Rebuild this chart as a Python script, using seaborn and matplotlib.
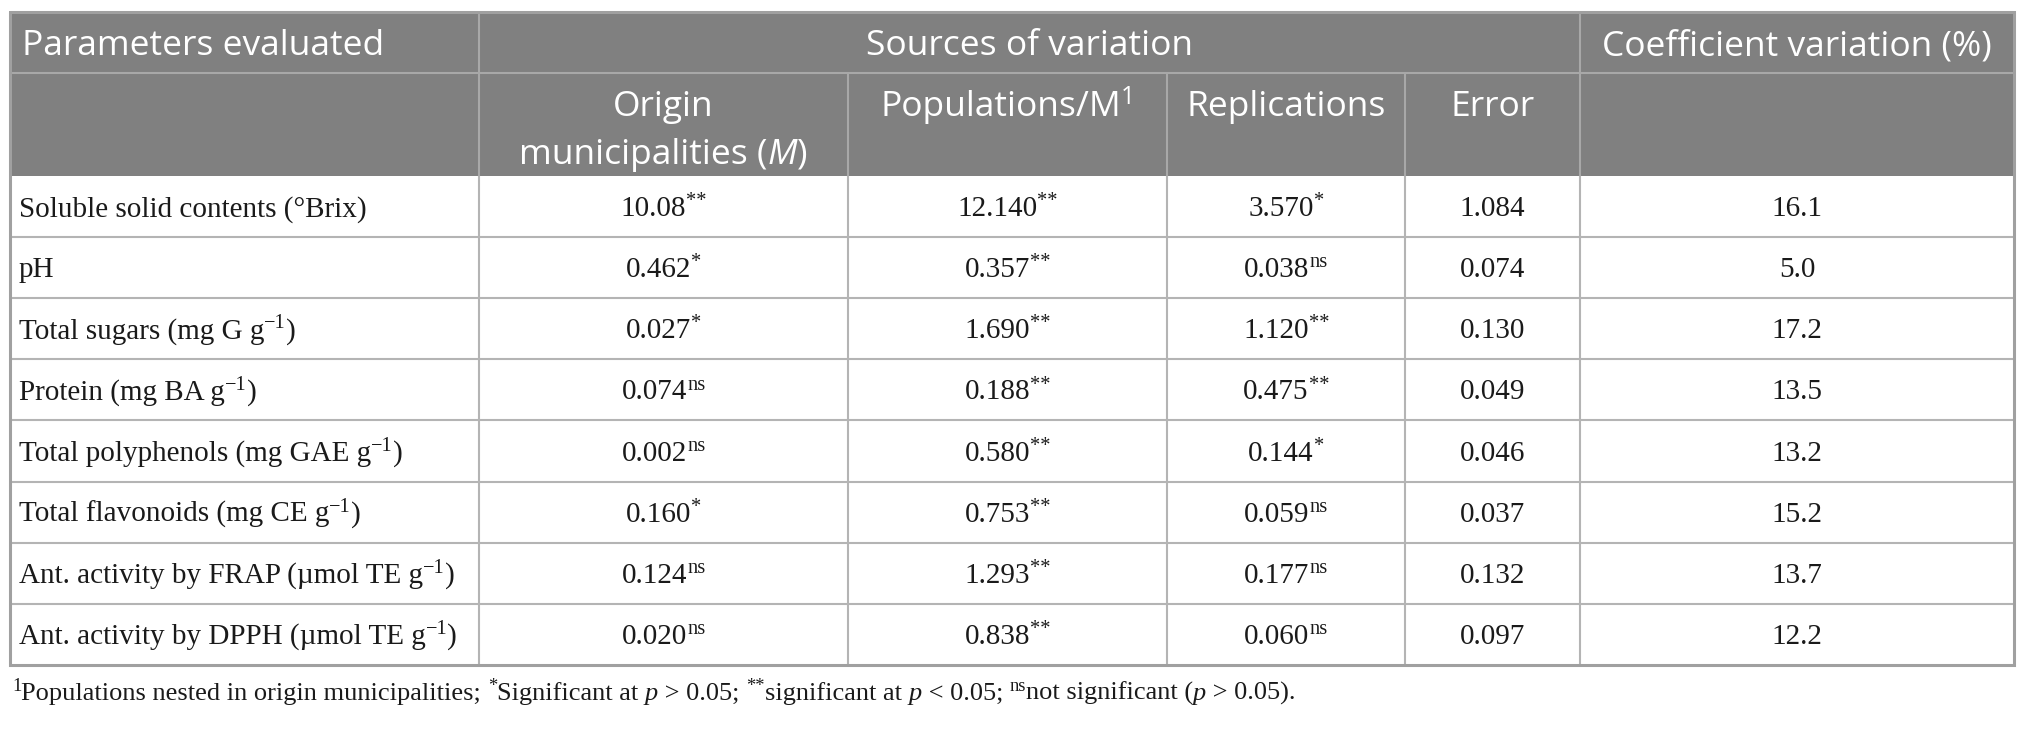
#!/usr/bin/env python
"""
ANOVA mean squares table redrawn as a figure
"""

import re
import matplotlib
matplotlib.use("Agg")
import matplotlib.pyplot as plt
from matplotlib.patches import Rectangle
from matplotlib.font_manager import FontProperties
import seaborn as sns

sns.set_style("white")

# ---------------------------------------------------------------------------
# Table content (^{..} = superscript, $..$ = italic)
# ---------------------------------------------------------------------------
parameters = [
    "Soluble solid contents (°Brix)",
    "pH",
    "Total sugars (mg G g^{−1})",
    "Protein (mg BA g^{−1})",
    "Total polyphenols (mg GAE g^{−1})",
    "Total flavonoids (mg CE g^{−1})",
    "Ant. activity by FRAP (µmol TE g^{−1})",
    "Ant. activity by DPPH (µmol TE g^{−1})",
]
municip_vals = ["10.08", "0.462", "0.027", "0.074", "0.002", "0.160", "0.124", "0.020"]
municip_sig = ["**", "*", "*", "ns", "ns", "*", "ns", "ns"]
pop_vals = ["12.140", "0.357", "1.690", "0.188", "0.580", "0.753", "1.293", "0.838"]
pop_sig = ["**", "**", "**", "**", "**", "**", "**", "**"]
rep_vals = ["3.570", "0.038", "1.120", "0.475", "0.144", "0.059", "0.177", "0.060"]
rep_sig = ["*", "ns", "**", "**", "*", "ns", "ns", "ns"]
error_vals = ["1.084", "0.074", "0.130", "0.049", "0.046", "0.037", "0.132", "0.097"]
cv_vals = ["16.1", "5.0", "17.2", "13.5", "13.2", "15.2", "13.7", "12.2"]

header_top = ["Parameters evaluated", "Sources of variation", "Coefficient variation (%)"]
header_sub = ["Origin\nmunicipalities ($M$)", "Populations/M^{1}", "Replications", "Error"]
footnote = ("^{1}Populations nested in origin municipalities; ^{*}Significant at $p$ > 0.05; "
            "^{**}significant at $p$ < 0.05; ^{ns}not significant ($p$ > 0.05).")

# ---------------------------------------------------------------------------
# Layout (pixels)
# ---------------------------------------------------------------------------
W, H = 2028, 738
col_edges = [10, 479, 848, 1167, 1405, 1580, 2014]
top, h1, h2 = 12, 73, 176
row_h = 61.1
n_rows = len(parameters)
row_edges = [h2 + i * row_h for i in range(n_rows + 1)]
bottom = row_edges[-1]

HEAD_BG = "#808080"
HEAD_LINE = "#a8a8a8"
BODY_LINE = "#b4b4b4"
SANS = "Open Sans"
SERIF = "Liberation Serif"
HEAD_SIZE = 25.5
BODY_SIZE = 21
FOOT_SIZE = 19
SUP = 0.7
PX = 100 / 72

fig = plt.figure(figsize=(W / 100, H / 100), dpi=100)
ax = fig.add_axes([0, 0, 1, 1])
ax.set_xlim(0, W)
ax.set_ylim(H, 0)
ax.axis("off")
renderer = fig.canvas.get_renderer()


def parse(markup):
    out = []
    for tok in re.split(r"(\^\{[^}]*\}|\$[^$]*\$)", markup):
        if not tok:
            continue
        if tok.startswith("^{"):
            out.append((tok[2:-1], "sup"))
        elif tok.startswith("$"):
            out.append((tok[1:-1], "it"))
        else:
            out.append((tok, "rm"))
    return out


def width(s, prop):
    w1 = renderer.get_text_width_height_descent("x" + s + "x", prop, ismath=False)[0]
    w0 = renderer.get_text_width_height_descent("xx", prop, ismath=False)[0]
    return w1 - w0


def rich(x, y, markup, size, family, color, ha="left"):
    """draw mixed text with baseline at y"""
    pieces = []
    for s, kind in parse(markup):
        if kind == "sup":
            prop = FontProperties(family=family, size=size * SUP)
        elif kind == "it":
            prop = FontProperties(family=family, size=size, style="italic")
        else:
            prop = FontProperties(family=family, size=size)
        pieces.append((s, kind, prop, width(s, prop)))
    total = sum(p[3] for p in pieces)
    cx = x - total / 2 if ha == "center" else x
    for s, kind, prop, w in pieces:
        dy = size * PX * 0.34 if kind == "sup" else 0
        ax.text(cx, y - dy, s, fontproperties=prop, color=color,
                ha="left", va="baseline")
        cx += w


# ---------------------------------------------------------------------------
# Header
# ---------------------------------------------------------------------------
ax.add_patch(Rectangle((col_edges[0], top), col_edges[-1] - col_edges[0], h2 - top,
                       facecolor=HEAD_BG, edgecolor="none", zorder=0))
ax.hlines(h1, col_edges[0], col_edges[-1], color=HEAD_LINE, lw=1.5)
ax.vlines([col_edges[1], col_edges[5]], top, h2, color=HEAD_LINE, lw=1.5)
ax.vlines(col_edges[2:5], h1, h2, color=HEAD_LINE, lw=1.5)

head_cap = HEAD_SIZE * PX * 0.714
y_h1 = (top + h1) / 2 + head_cap / 2
rich(col_edges[0] + 12, y_h1, header_top[0], HEAD_SIZE, SANS, "white")
rich((col_edges[1] + col_edges[5]) / 2, y_h1, header_top[1], HEAD_SIZE, SANS, "white", ha="center")
rich((col_edges[5] + col_edges[6]) / 2, y_h1, header_top[2], HEAD_SIZE, SANS, "white", ha="center")

y_h2 = 103 + head_cap / 2
line_gap = 48
for j, label in enumerate(header_sub):
    cx = (col_edges[j + 1] + col_edges[j + 2]) / 2
    for k, line in enumerate(label.split("\n")):
        rich(cx, y_h2 + k * line_gap, line, HEAD_SIZE, SANS, "white", ha="center")

# ---------------------------------------------------------------------------
# Body
# ---------------------------------------------------------------------------
ax.hlines(row_edges[1:-1], col_edges[0], col_edges[-1], color=BODY_LINE, lw=1.5)
ax.vlines(col_edges[1:-1], h2, bottom, color=BODY_LINE, lw=1.5)
# outer frame
ax.plot([col_edges[0], col_edges[-1], col_edges[-1], col_edges[0], col_edges[0]],
        [top, top, bottom, bottom, top], color="#a0a0a0", lw=2.2, solid_joinstyle="miter")

columns = [
    [v + "^{" + s + "}" for v, s in zip(municip_vals, municip_sig)],
    [v + "^{" + s + "}" for v, s in zip(pop_vals, pop_sig)],
    [v + "^{" + s + "}" for v, s in zip(rep_vals, rep_sig)],
    error_vals,
    cv_vals,
]

body_cap = BODY_SIZE * PX * 0.66
for i, label in enumerate(parameters):
    yb = (row_edges[i] + row_edges[i + 1]) / 2 + body_cap / 2
    rich(col_edges[0] + 9, yb, label, BODY_SIZE, SERIF, "#1a1a1a")
    for j, col in enumerate(columns):
        cx = (col_edges[j + 1] + col_edges[j + 2]) / 2
        rich(cx, yb, col[i], BODY_SIZE, SERIF, "#1a1a1a", ha="center")

# footnote
rich(col_edges[0] + 2, 691 + FOOT_SIZE * PX * 0.66 / 2, footnote, FOOT_SIZE, SERIF, "#1a1a1a")

plt.savefig("out.png", dpi=100)
